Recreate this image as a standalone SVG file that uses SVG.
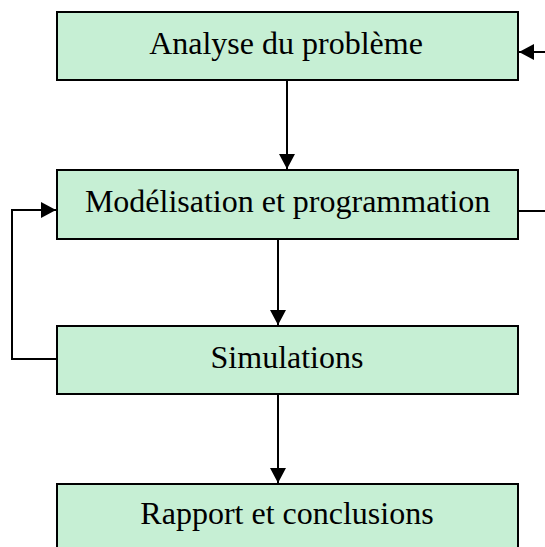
<svg xmlns="http://www.w3.org/2000/svg" width="545" height="547" viewBox="0 0 545 547">
  <style>
    .box { fill: #c6efd4; stroke: #000; stroke-width: 2; }
    .lbl { font-family: "Liberation Serif", "Times New Roman", serif; font-size: 32px; fill: #000; text-anchor: middle; }
    .wire { fill: none; stroke: #000; stroke-width: 2; }
  </style>
  <defs>
    <marker id="head" markerWidth="15" markerHeight="16" refX="15" refY="8" orient="auto" markerUnits="userSpaceOnUse">
      <path d="M0,0 L15,8 L0,16 Z" fill="#000"/>
    </marker>
  </defs>
  <rect width="545" height="547" fill="#fff"/>

  <g id="connectors">
    <line class="wire" x1="287" y1="80" x2="287" y2="169" marker-end="url(#head)"/>
    <line class="wire" x1="278" y1="239" x2="278" y2="325" marker-end="url(#head)"/>
    <line class="wire" x1="278" y1="394" x2="278" y2="483" marker-end="url(#head)"/>
    <polyline class="wire" points="57,359 12,359 12,210 56,210" marker-end="url(#head)"/>
    <line class="wire" x1="518" y1="211" x2="545" y2="211"/>
    <line class="wire" x1="545" y1="52" x2="519" y2="52" marker-end="url(#head)"/>
  </g>

  <g id="analyse">
    <rect class="box" x="57" y="12" width="461" height="68"/>
    <text class="lbl" x="286" y="54">Analyse du problème</text>
  </g>
  <g id="modelisation">
    <rect class="box" x="57" y="170" width="461" height="69"/>
    <text class="lbl" x="287.5" y="212">Modélisation et programmation</text>
  </g>
  <g id="simulations">
    <rect class="box" x="57" y="326" width="461" height="68"/>
    <text class="lbl" x="287" y="368">Simulations</text>
  </g>
  <g id="rapport">
    <rect class="box" x="57" y="484" width="461" height="70"/>
    <text class="lbl" x="287" y="524">Rapport et conclusions</text>
  </g>
</svg>
